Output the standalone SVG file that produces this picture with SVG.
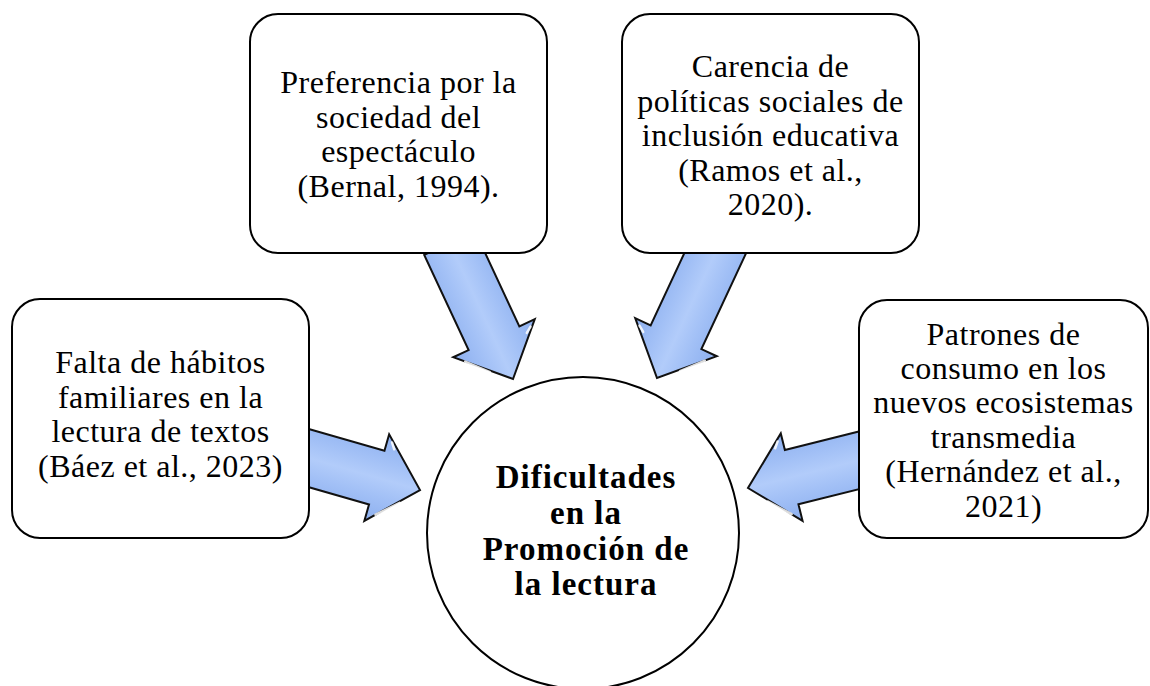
<svg xmlns="http://www.w3.org/2000/svg" width="1150" height="686" viewBox="0 0 1150 686">
  <style>
    .box { fill: #ffffff; stroke: #000000; stroke-width: 2; }
    .txt { font-family: "Liberation Serif", "Times New Roman", serif; font-size: 32px; fill: #000000; text-anchor: middle; letter-spacing: 0.5px; }
    .bold { font-family: "Liberation Serif", "Times New Roman", serif; font-size: 33px; font-weight: bold; fill: #000000; text-anchor: middle; letter-spacing: 1px; }
    .arrow { fill: url(#arrowGrad); stroke: #111111; stroke-width: 2; stroke-linejoin: miter; }
    .gloss { fill: none; stroke: #ffffff; stroke-width: 2.5; stroke-linecap: round; opacity: 0.85; }
  </style>
  <defs>
    <linearGradient id="arrowGrad" gradientUnits="userSpaceOnUse" x1="0" y1="-45" x2="0" y2="45">
      <stop offset="0" stop-color="#8cafef"/>
      <stop offset="0.3" stop-color="#a2c0f6"/>
      <stop offset="0.5" stop-color="#b2ccfa"/>
      <stop offset="0.7" stop-color="#a2c0f6"/>
      <stop offset="1" stop-color="#8cafef"/>
    </linearGradient>
    <polygon id="arrowShape" points="-150,-28 -45,-28 -45,-45 0,0 -45,45 -45,28 -150,28"/>
  </defs>

  <rect width="1150" height="686" fill="#ffffff"/>

  <g id="connectors">
    <g transform="translate(420,490) rotate(16)">
      <use href="#arrowShape" class="arrow"/>
      <path class="gloss" d="M -40,-38 L -36,-32"/>
      <path class="gloss" d="M -36,36 L -16,18"/>
    </g>
    <g transform="translate(513,379) rotate(65)">
      <use href="#arrowShape" class="arrow"/>
      <path class="gloss" d="M -40,-38 L -36,-32"/>
      <path class="gloss" d="M -36,36 L -16,18"/>
    </g>
    <g transform="translate(657,378) rotate(115)">
      <use href="#arrowShape" class="arrow"/>
      <path class="gloss" d="M -36,-36 L -16,-18"/>
      <path class="gloss" d="M -40,38 L -36,32"/>
    </g>
    <g transform="translate(748,488) rotate(166)">
      <use href="#arrowShape" class="arrow"/>
      <path class="gloss" d="M -36,-36 L -16,-18"/>
      <path class="gloss" d="M -40,38 L -36,32"/>
    </g>
  </g>

  <g id="node-left">
    <rect class="box" x="12" y="299" width="297" height="239" rx="28" ry="28"/>
    <text class="txt" x="160.5" y="373">Falta de hábitos</text>
    <text class="txt" x="160.5" y="407.5">familiares en la</text>
    <text class="txt" x="160.5" y="442">lectura de textos</text>
    <text class="txt" x="160.5" y="476.5">(Báez et al., 2023)</text>
  </g>

  <g id="node-top-left">
    <rect class="box" x="250" y="14" width="297" height="239" rx="28" ry="28"/>
    <text class="txt" x="398.5" y="93">Preferencia por la</text>
    <text class="txt" x="398.5" y="127.5">sociedad del</text>
    <text class="txt" x="398.5" y="162">espectáculo</text>
    <text class="txt" x="398.5" y="196.5">(Bernal, 1994).</text>
  </g>

  <g id="node-top-right">
    <rect class="box" x="622" y="14" width="297" height="239" rx="28" ry="28"/>
    <text class="txt" x="770.5" y="77">Carencia de</text>
    <text class="txt" x="770.5" y="111.5">políticas sociales de</text>
    <text class="txt" x="770.5" y="146">inclusión educativa</text>
    <text class="txt" x="770.5" y="180.5">(Ramos et al.,</text>
    <text class="txt" x="770.5" y="215">2020).</text>
  </g>

  <g id="node-right">
    <rect class="box" x="859" y="300" width="289" height="238" rx="28" ry="28"/>
    <text class="txt" x="1003.5" y="345">Patrones de</text>
    <text class="txt" x="1003.5" y="379">consumo en los</text>
    <text class="txt" x="1003.5" y="413">nuevos ecosistemas</text>
    <text class="txt" x="1003.5" y="447.5">transmedia</text>
    <text class="txt" x="1003.5" y="482">(Hernández et al.,</text>
    <text class="txt" x="1003.5" y="516.5">2021)</text>
  </g>

  <g id="node-center">
    <circle class="box" cx="583" cy="533" r="156"/>
    <text class="bold" x="586" y="488">Dificultades</text>
    <text class="bold" x="586" y="524">en la</text>
    <text class="bold" x="586" y="560">Promoción de</text>
    <text class="bold" x="586" y="595">la lectura</text>
  </g>
</svg>
